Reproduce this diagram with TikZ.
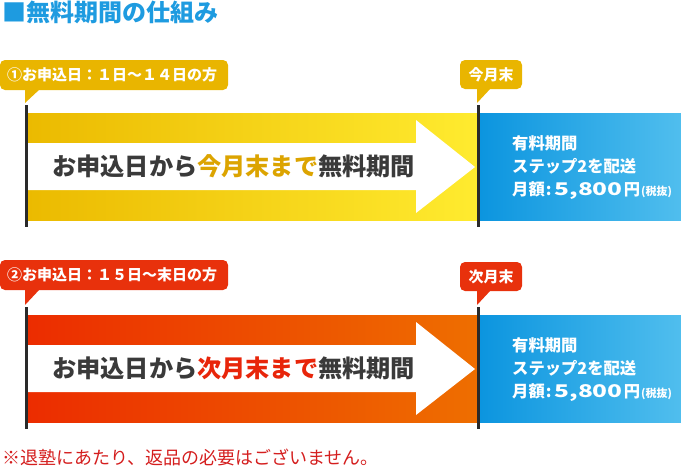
\documentclass[tikz,border=0pt]{standalone}
\usepackage{fontspec}
\usepackage{graphicx}
\setmainfont{Noto Sans CJK JP}
\definecolor{titleblue}{HTML}{1E9BE0}
\definecolor{goldlbl}{HTML}{E9B500}
\definecolor{redlbl}{HTML}{E8310C}
\definecolor{yelL}{HTML}{EBBA00}
\definecolor{yelR}{HTML}{FFEB2F}
\definecolor{orL}{HTML}{EC2C00}
\definecolor{orR}{HTML}{EE6E00}
\definecolor{bluL}{HTML}{0C95DF}
\definecolor{bluR}{HTML}{50BEEE}
\definecolor{txtgray}{HTML}{3A3A3A}
\definecolor{goldtxt}{HTML}{DCA400}
\definecolor{redtxt}{HTML}{E8250A}
\definecolor{notered}{HTML}{D41E1E}
\definecolor{linegray}{HTML}{2A2A2A}
\tikzset{
  lbltext/.style={text=white, font=\bfseries\fontsize{15}{15}\selectfont, inner sep=0pt},
  bluetext/.style={text=white, font=\bfseries\fontsize{16.3}{16.3}\selectfont, inner sep=0pt, anchor=west},
  midtext/.style={font=\bfseries\fontsize{24.2}{24.2}\selectfont, inner sep=0pt, anchor=west},
  vline/.style={draw=linegray, line width=3pt},
  whitearrow/.style={fill=white}
}
\newcommand{\pricetext}{月額\hspace{1pt}:\hspace{3pt}\scalebox{1.4}[1]{\fontsize{17.5}{17.5}\selectfont 5,800}\hspace{1pt}円\hspace{1pt}{\fontsize{11}{11}\selectfont(税抜)}}
\begin{document}
\begin{tikzpicture}[x=1pt,y=-1pt]
\useasboundingbox (0,0) rectangle (681,467);
\node[anchor=west, text=titleblue, font=\bfseries\fontsize{24}{24}\selectfont, inner sep=0pt] (title) at (2,12) {■無料期間の仕組み};

% ---------- row 1 ----------
\shade[left color=yelL, right color=yelR] (27,113) rectangle (477,220);
\shade[left color=bluL, right color=bluR] (480,113) rectangle (681,220);
\fill[whitearrow] (27,143) -- (416,143) -- (416,120) -- (475,167) -- (416,213) -- (416,190) -- (27,190) -- cycle;
\coordinate (a1t) at (26.5,105); \coordinate (a1b) at (26.5,227);
\coordinate (b1t) at (478.5,105); \coordinate (b1b) at (478.5,227);
\draw[vline] (a1t) -- (a1b);
\draw[vline] (b1t) -- (b1b);
\fill[goldlbl, rounded corners=5pt] (0,60) rectangle (228,90);
\fill[goldlbl] (25,89) -- (40,89) -- (25,103) -- cycle;
\node[lbltext, anchor=west] (l1) at (7,75) {①お申込日：１日〜１４日の方};
\fill[goldlbl, rounded corners=5pt] (460,60) rectangle (522,89);
\fill[goldlbl] (477,88) -- (491,88) -- (477,103) -- cycle;
\node[lbltext] (e1) at (491,75) {今月末};
\node[midtext] (m1) at (52,166) {\color{txtgray}お申込日から\color{goldtxt}今月末まで\color{txtgray}無料期間};
\node[bluetext] (p1a) at (512,143) {有料期間};
\node[bluetext] (p1b) at (512,166) {ステップ2を配送};
\node[bluetext] (p1c) at (512,191) {\pricetext};

% ---------- row 2 ----------
\begin{scope}[shift={(0,202)}]
\shade[left color=orL, right color=orR] (27,113) rectangle (477,220);
\shade[left color=bluL, right color=bluR] (480,113) rectangle (681,220);
\fill[whitearrow] (27,143) -- (416,143) -- (416,120) -- (475,167) -- (416,213) -- (416,190) -- (27,190) -- cycle;
\coordinate (a2t) at (26.5,105); \coordinate (a2b) at (26.5,227);
\coordinate (b2t) at (478.5,105); \coordinate (b2b) at (478.5,227);
\draw[vline] (a2t) -- (a2b);
\draw[vline] (b2t) -- (b2b);
\fill[redlbl, rounded corners=5pt] (0,58) rectangle (228,88);
\fill[redlbl] (25,87) -- (40,87) -- (25,103) -- cycle;
\node[lbltext, anchor=west] (l2) at (7,73) {②お申込日：１５日〜末日の方};
\fill[redlbl, rounded corners=5pt] (460,60) rectangle (522,89);
\fill[redlbl] (477,88) -- (491,88) -- (477,103) -- cycle;
\node[lbltext] (e2) at (491,75) {次月末};
\node[midtext] (m2) at (52,166) {\color{txtgray}お申込日から\color{redtxt}次月末まで\color{txtgray}無料期間};
\node[bluetext] (p2a) at (512,143) {有料期間};
\node[bluetext] (p2b) at (512,166) {ステップ2を配送};
\node[bluetext] (p2c) at (512,191) {\pricetext};
\end{scope}

\node[anchor=west, text=notered, font=\fontsize{18}{18}\selectfont, inner sep=0pt] (note) at (2,457) {※退塾にあたり、返品の必要はございません。};
\end{tikzpicture}
\end{document}
